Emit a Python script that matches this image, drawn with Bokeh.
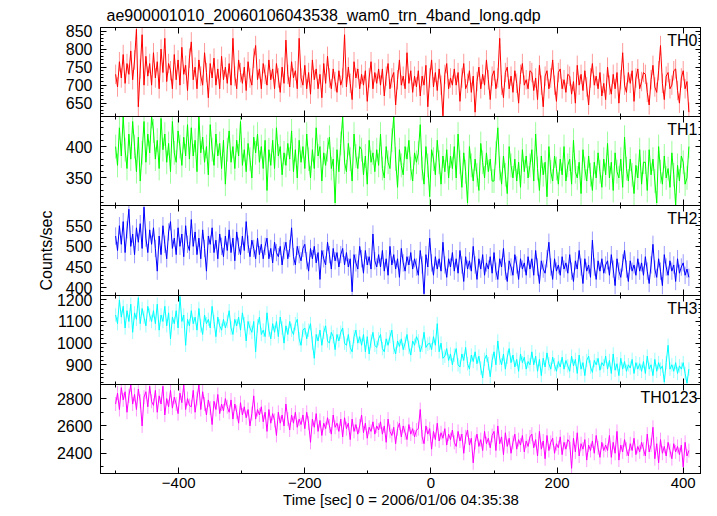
from bokeh.plotting import figure
from bokeh.models import LinearAxis, Range1d, Label, SingleIntervalTicker, CustomLabelingPolicy
from bokeh.layouts import column
from bokeh.embed import file_html
from bokeh.resources import INLINE

# ---- data (3 s steps) ----
time_sec = list(range(-500, 410, 3))

th0 = [730, 695, 765, 720, 785, 705, 760, 730, 795, 715, 770, 855, 640, 745, 840, 700, 780, 725, 760, 700,
       790, 720, 765, 690, 800, 735, 830, 710, 760, 740, 690, 785, 715, 770, 700, 805, 730, 755, 685, 775,
       820, 715, 750, 690, 770, 725, 700, 790, 735, 665, 760, 720, 775, 700, 745, 690, 780, 715, 750, 705,
       760, 700, 830, 725, 690, 770, 735, 705, 750, 685, 765, 720, 700, 775, 810, 715, 745, 690, 760, 730,
       700, 770, 715, 745, 690, 760, 720, 680, 750, 705, 825, 730, 695, 765, 720, 740, 690, 830, 720, 700,
       755, 690, 735, 675, 770, 715, 745, 690, 730, 665, 760, 705, 780, 720, 690, 745, 710, 680, 740, 700,
       720, 840, 695, 750, 705, 660, 765, 720, 745, 690, 730, 700, 740, 655, 720, 765, 690, 735, 705, 745,
       700, 745, 670, 725, 760, 690, 720, 735, 645, 715, 770, 700, 725, 690, 790, 705, 740, 680, 725, 695,
       740, 670, 725, 700, 755, 640, 720, 770, 695, 735, 685, 745, 700, 615, 730, 760, 690, 720, 700, 745,
       700, 735, 655, 720, 760, 690, 705, 740, 680, 725, 625, 710, 750, 690, 730, 700, 770, 715, 660, 725,
       740, 690, 720, 830, 700, 665, 735, 750, 690, 725, 680, 740, 705, 650, 730, 760, 700, 715, 690, 740,
       735, 685, 720, 660, 755, 700, 640, 725, 740, 690, 720, 770, 700, 655, 735, 745, 690, 715, 680, 730,
       725, 675, 710, 650, 755, 700, 730, 685, 740, 695, 645, 720, 760, 700, 725, 690, 735, 670, 705, 660,
       750, 700, 675, 730, 690, 735, 650, 715, 790, 700, 680, 735, 705, 740, 655, 720, 745, 690, 710, 735,
       730, 680, 645, 715, 755, 695, 680, 740, 810, 705, 660, 725, 735, 690, 700, 740, 745, 685, 650, 720,
       740, 690, 710, 625]

th1 = [400, 370, 430, 385, 448, 395, 365, 420, 380, 440, 400, 360, 415, 345, 390, 440, 375, 420, 390, 448,
       425, 380, 410, 365, 445, 395, 420, 375, 405, 360, 440, 390, 375, 425, 400, 370, 415, 385, 435, 380,
       430, 385, 410, 360, 448, 390, 415, 375, 400, 355, 435, 395, 370, 420, 385, 405, 365, 410, 340, 395,
       425, 375, 400, 365, 410, 385, 440, 370, 395, 360, 405, 380, 350, 415, 390, 420, 375, 400, 365, 410,
       330, 395, 370, 410, 365, 430, 385, 400, 355, 390, 370, 405, 380, 425, 360, 395, 350, 410, 375, 400,
       365, 420, 380, 350, 395, 365, 430, 385, 400, 345, 390, 370, 395, 415, 365, 380, 310, 395, 360, 405,
       448, 375, 360, 405, 380, 345, 420, 385, 365, 400, 395, 355, 385, 340, 410, 375, 390, 360, 395, 370,
       420, 365, 350, 400, 375, 365, 410, 448, 380, 335, 395, 370, 355, 400, 380, 410, 365, 345, 390, 375,
       390, 435, 365, 340, 400, 370, 320, 395, 380, 355, 410, 375, 340, 385, 360, 395, 350, 385, 365, 400,
       350, 420, 375, 335, 390, 360, 310, 400, 370, 345, 380, 355, 330, 405, 375, 350, 390, 360, 380, 345,
       345, 390, 430, 365, 340, 385, 355, 325, 400, 370, 350, 380, 345, 375, 335, 395, 360, 385, 350, 370,
       395, 345, 420, 365, 330, 385, 355, 375, 320, 400, 360, 345, 385, 365, 340, 380, 355, 400, 345, 370,
       380, 340, 410, 360, 350, 375, 325, 395, 365, 345, 385, 355, 330, 375, 350, 390, 360, 335, 380, 355,
       405, 350, 375, 330, 390, 360, 350, 380, 335, 415, 365, 345, 380, 355, 325, 370, 350, 395, 340, 375,
       375, 330, 395, 355, 380, 345, 310, 400, 360, 340, 385, 350, 365, 335, 390, 355, 306, 370, 345, 385,
       375, 340, 350, 400]

th2 = [525, 490, 550, 505, 560, 485, 540, 590, 500, 530, 480, 545, 510, 555, 495, 595, 520, 485, 540, 505,
       545, 495, 440, 525, 480, 550, 505, 470, 535, 560, 495, 520, 480, 545, 500, 530, 475, 550, 505, 490,
       565, 500, 535, 480, 520, 470, 540, 495, 440, 525, 505, 545, 485, 515, 470, 530, 500, 475, 525, 490,
       540, 485, 520, 465, 535, 500, 480, 525, 490, 560, 505, 475, 515, 495, 470, 520, 480, 505, 470, 500,
       520, 470, 495, 460, 510, 485, 475, 500, 455, 490, 510, 470, 495, 545, 475, 455, 500, 480, 465, 495,
       505, 465, 440, 495, 470, 500, 460, 485, 420, 490, 470, 455, 510, 480, 445, 495, 465, 485, 450, 480,
       495, 455, 485, 450, 470, 390, 480, 460, 445, 500, 470, 435, 490, 455, 475, 445, 530, 465, 450, 480,
       450, 490, 440, 470, 430, 500, 455, 480, 445, 470, 425, 495, 460, 440, 475, 455, 485, 445, 470, 450,
       430, 490, 455, 385, 480, 450, 520, 460, 430, 475, 445, 470, 440, 510, 455, 425, 470, 450, 485, 440,
       470, 435, 490, 455, 415, 475, 445, 465, 440, 500, 455, 420, 470, 445, 480, 430, 460, 445, 475, 435,
       485, 440, 420, 470, 450, 495, 440, 415, 465, 450, 430, 480, 455, 420, 470, 445, 460, 430, 475, 445,
       470, 430, 490, 450, 410, 465, 445, 435, 470, 510, 450, 420, 470, 440, 455, 430, 475, 445, 460, 435,
       480, 440, 415, 465, 445, 490, 450, 410, 470, 440, 455, 425, 515, 450, 420, 465, 440, 470, 435, 455,
       465, 430, 480, 445, 405, 470, 440, 425, 460, 490, 445, 415, 465, 440, 455, 430, 470, 440, 460, 430,
       475, 440, 410, 455, 505, 445, 425, 470, 440, 405, 480, 450, 430, 465, 440, 455, 415, 470, 435, 450,
       460, 430, 445, 425]

th3 = [1130, 1090, 1200, 1120, 1170, 1070, 1150, 1100, 1180, 1050, 1140, 1110, 1210, 1090, 1160, 1120, 1080, 1170, 1130, 1100,
       1150, 1090, 1180, 1060, 1130, 1100, 1170, 1080, 1140, 1020, 1120, 1090, 1150, 1070, 1215, 1100, 1130, 990, 1110, 1080,
       1150, 1090, 1120, 1060, 1160, 1080, 1040, 1130, 1090, 1110, 1070, 1170, 1100, 1030, 1120, 1080, 1060, 1110, 1070, 1100,
       1150, 1070, 1040, 1110, 1080, 1120, 1060, 1140, 1090, 1010, 1100, 1070, 1050, 1100, 960, 1080, 1120, 1040, 1060, 1030,
       1140, 1060, 1020, 1090, 1050, 1100, 1030, 1120, 1070, 1000, 1080, 1040, 1100, 1060, 1040, 1090, 1110, 1020, 990, 1060,
       1070, 1020, 1060, 1090, 1000, 930, 1040, 1010, 1060, 990, 1050, 1080, 1010, 1000, 1050, 1030, 970, 1040, 1010, 1050,
       1070, 1000, 990, 1040, 980, 960, 1030, 1060, 1000, 1030, 990, 1040, 960, 1030, 950, 1010, 1050, 990, 980, 1020,
       1040, 975, 960, 1020, 990, 1030, 1060, 980, 950, 1010, 985, 1020, 970, 1000, 1040, 980, 945, 1010, 990, 1030,
       1010, 960, 990, 1050, 980, 995, 1000, 970, 1030, 990, 1090, 960, 1000, 930, 940, 975, 920, 950, 900, 945,
       975, 900, 890, 950, 920, 980, 905, 880, 945, 915, 960, 905, 940, 885, 840, 925, 945, 905, 845, 920,
       960, 900, 1010, 930, 900, 950, 880, 935, 975, 910, 945, 890, 925, 870, 950, 910, 935, 880, 915, 900,
       960, 900, 940, 870, 925, 850, 930, 890, 955, 905, 880, 935, 900, 870, 915, 890, 935, 880, 920, 895,
       870, 940, 895, 925, 860, 945, 880, 910, 850, 920, 940, 890, 865, 920, 900, 930, 875, 910, 895, 940,
       880, 920, 860, 950, 875, 905, 850, 930, 880, 915, 870, 900, 885, 925, 860, 910, 880, 905, 870, 915,
       860, 940, 880, 900, 850, 925, 870, 910, 880, 895, 820, 910, 990, 880, 900, 870, 910, 860, 895, 880,
       910, 860, 815, 880]

th0123 = [2760, 2840, 2720, 2880, 2790, 2850, 2700, 2820, 2900, 2760, 2830, 2720, 2870, 2780, 2600, 2810, 2850, 2740, 2890, 2780,
          2750, 2860, 2700, 2820, 2760, 2890, 2680, 2800, 2740, 2860, 2730, 2810, 2760, 2690, 2840, 2770, 2900, 2720, 2800, 2750,
          2740, 2860, 2700, 2800, 2900, 2720, 2850, 2760, 2680, 2790, 2730, 2610, 2780, 2720, 2830, 2690, 2760, 2710, 2800, 2740,
          2700, 2790, 2650, 2760, 2700, 2620, 2770, 2680, 2740, 2660, 2720, 2600, 2690, 2820, 2650, 2720, 2680, 2740, 2630, 2700,
          2560, 2720, 2620, 2690, 2640, 2530, 2700, 2620, 2680, 2600, 2760, 2650, 2570, 2680, 2620, 2700, 2590, 2650, 2610, 2680,
          2580, 2700, 2620, 2480, 2650, 2590, 2690, 2560, 2640, 2530, 2620, 2580, 2660, 2600, 2540, 2680, 2590, 2620, 2560, 2650,
          2520, 2660, 2580, 2620, 2500, 2650, 2560, 2610, 2540, 2600, 2680, 2550, 2620, 2510, 2590, 2560, 2630, 2540, 2600, 2570,
          2630, 2540, 2600, 2480, 2650, 2560, 2530, 2590, 2470, 2580, 2620, 2520, 2600, 2550, 2500, 2610, 2540, 2580, 2520, 2570,
          2580, 2720, 2520, 2470, 2600, 2540, 2580, 2430, 2560, 2500, 2620, 2490, 2550, 2510, 2580, 2460, 2540, 2500, 2570, 2480,
          2450, 2560, 2490, 2540, 2400, 2520, 2570, 2460, 2510, 2330, 2480, 2540, 2450, 2500, 2420, 2560, 2470, 2510, 2440, 2530,
          2560, 2420, 2600, 2470, 2520, 2390, 2550, 2450, 2510, 2400, 2480, 2540, 2430, 2500, 2460, 2530, 2410, 2490, 2450, 2520,
          2540, 2440, 2500, 2380, 2560, 2430, 2490, 2360, 2530, 2420, 2480, 2510, 2400, 2470, 2440, 2520, 2390, 2480, 2430, 2500,
          2480, 2290, 2510, 2410, 2550, 2380, 2470, 2430, 2500, 2350, 2460, 2420, 2490, 2400, 2530, 2440, 2370, 2480, 2420, 2460,
          2420, 2530, 2370, 2480, 2400, 2560, 2350, 2460, 2410, 2500, 2430, 2380, 2470, 2420, 2510, 2390, 2450, 2410, 2480, 2430,
          2380, 2540, 2410, 2460, 2590, 2360, 2470, 2330, 2500, 2400, 2450, 2380, 2480, 2420, 2360, 2470, 2410, 2450, 2390, 2460,
          2300, 2480, 2380, 2420]

# typical 1-sigma error bar half-length of each band (counts/sec)
error_bars = [27, 19, 21, 31, 51]

panel_names = ["TH0", "TH1", "TH2", "TH3", "TH0123"]
series = [th0, th1, th2, th3, th0123]
colors = ["#ff0000", "#00ff00", "#0000ff", "#00ffff", "#ff00ff"]
y_ranges = [(613, 860), (306, 448), (381, 599), (809, 1220), (2252, 2903)]
y_major = [50, 50, 50, 100, 200]
y_minor_n = [5, 5, 5, 5, 2]
x_lim = (-524, 429)

title_text = "ae900001010_20060106043538_wam0_trn_4band_long.qdp"
x_label = "Time [sec] 0 = 2006/01/06 04:35:38"
y_label = "Counts/sec"

FONT = "Liberation Sans"
frame_heights = [89, 89, 90, 89, 89]
PAD = 10

# ticks only (mirror axes): draw no tick labels at all
NO_LABELS_CODE = """
const r = (typeof indices.clone === 'function') ? indices.clone() : indices
for (const i of Array.from(indices)) { r.unset(i) }
return r
"""


def style_axis(ax, labels, size="16px"):
    ax.axis_line_color = "black"
    ax.axis_line_width = 1
    ax.major_tick_line_color = "black"
    ax.minor_tick_line_color = "black"
    ax.major_tick_in = 6
    ax.major_tick_out = 0
    ax.minor_tick_in = 3
    ax.minor_tick_out = 0
    if labels:
        ax.major_label_text_font = FONT
        ax.major_label_text_font_size = size
        ax.major_label_text_color = "black"
    else:
        ax.major_label_text_font_size = "0px"
        ax.major_label_standoff = 0
        ax.major_label_policy = CustomLabelingPolicy(code=NO_LABELS_CODE)


figs = []
n = len(series)
for k in range(n):
    first = k == 0
    last = k == n - 1
    kw = {}
    if not first:
        kw["margin"] = (-2 * PAD, 0, 0, 0)
    p = figure(frame_width=601, frame_height=frame_heights[k],
               x_range=Range1d(*x_lim), y_range=Range1d(*y_ranges[k]),
               output_backend="svg", toolbar_location=None,
               x_axis_location=None, y_axis_location=None,
               min_border_left=100, min_border_right=0,
               min_border_top=18 if first else PAD,
               min_border_bottom=0 if last else PAD,
               background_fill_color="white", border_fill_alpha=0,
               outline_line_color="black", outline_line_width=1, **kw)
    p.grid.visible = False

    xt = SingleIntervalTicker(interval=200, num_minor_ticks=2)
    yt = SingleIntervalTicker(interval=y_major[k], num_minor_ticks=y_minor_n[k])

    left = LinearAxis(ticker=yt)
    style_axis(left, True)
    left.major_label_standoff = 8
    if k == 2:
        left.axis_label = y_label
        left.axis_label_text_font = FONT
        left.axis_label_text_font_size = "16px"
        left.axis_label_text_font_style = "normal"
        left.axis_label_text_color = "black"
        left.axis_label_standoff = 8
    p.add_layout(left, "left")

    right = LinearAxis(ticker=yt)
    style_axis(right, False)
    p.add_layout(right, "right")

    bottom = LinearAxis(ticker=xt)
    style_axis(bottom, last, "15px")
    if last:
        bottom.major_label_standoff = 4
        bottom.axis_label = x_label
        bottom.axis_label_text_font = FONT
        bottom.axis_label_text_font_size = "15px"
        bottom.axis_label_text_font_style = "normal"
        bottom.axis_label_text_color = "black"
        bottom.axis_label_standoff = 0
    p.add_layout(bottom, "below")

    top = LinearAxis(ticker=xt)
    style_axis(top, False)
    p.add_layout(top, "above")

    if first:
        p.title.text = title_text
        p.title.text_font = FONT
        p.title.text_font_size = "16px"
        p.title.text_font_style = "normal"
        p.title.text_color = "black"
        p.title.align = "left"
        p.title.offset = 6
        p.title.standoff = 8

    vals = series[k]
    m = min(len(vals), len(time_sec))
    vals = vals[:m]
    tk = time_sec[:m]
    err = error_bars[k]
    p.segment(x0=tk, y0=[v - err for v in vals], x1=tk, y1=[v + err for v in vals],
              line_color=colors[k], line_alpha=0.4, line_width=1)
    p.line(tk, vals, line_color=colors[k], line_width=1)

    p.add_layout(Label(x=x_lim[1], y=y_ranges[k][1], x_offset=-4, y_offset=-4,
                       text=panel_names[k], text_align="right", text_baseline="top",
                       text_font=FONT, text_font_size="16px", text_color="black"))
    figs.append(p)

layout = column(*figs, spacing=0)
open("out.html", "w").write(file_html(layout, INLINE))
